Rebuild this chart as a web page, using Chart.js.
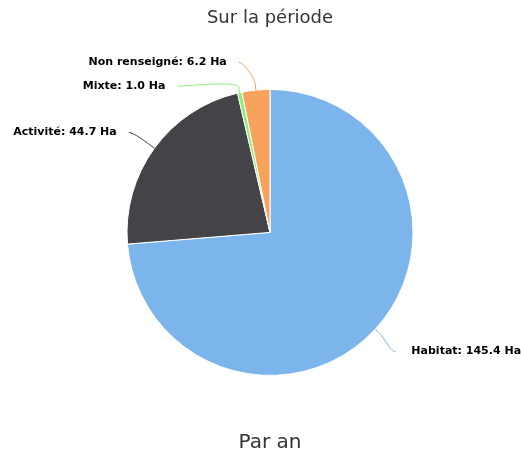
<!DOCTYPE html>
<html>
<head>
<meta charset="utf-8">
<script src="https://cdn.jsdelivr.net/npm/chart.js@4"></script>
<style>
  html, body { margin: 0; padding: 0; background: #fff; }
  #wrap { width: 521px; height: 459px; }
</style>
</head>
<body>
<div id="wrap"><canvas id="pie"></canvas></div>
<script>
const categories = ['Habitat', 'Activité', 'Mixte', 'Non renseigné'];
const surfaces = [145.4, 44.7, 1.0, 6.2];
const sliceColors = ['#7cb5ec', '#434348', '#90ed7d', '#f7a35c'];
const unit = 'Ha';

// labels outside the pie, joined to their slice by a soft connector
const outsideLabels = {
  id: 'outsideLabels',
  afterDatasetsDraw(chart, args, opts) {
    const ctx = chart.ctx;
    const meta = chart.getDatasetMeta(0);
    const distance = opts.distance;
    const items = meta.data.map((arc, i) => {
      const p = arc.getProps(['x', 'y', 'startAngle', 'endAngle', 'outerRadius'], true);
      const a = (p.startAngle + p.endAngle) / 2;
      return {
        i, a, cx: p.x, cy: p.y, r: p.outerRadius,
        left: Math.cos(a) < 0,
        y: p.y + Math.sin(a) * (p.outerRadius + distance)
      };
    });
    // push overlapping labels apart on each side
    [true, false].forEach(side => {
      const list = items.filter(it => it.left === side).sort((u, v) => u.y - v.y);
      for (let k = 1; k < list.length; k++) {
        list[k].y = Math.max(list[k].y, list[k - 1].y + opts.spacing);
      }
    });

    ctx.save();
    ctx.font = opts.font;
    ctx.textBaseline = 'middle';
    ctx.lineJoin = 'round';
    items.forEach(it => {
      const R = it.r + distance;
      const y = it.y + 2;
      const dy = Math.min(Math.abs(y - it.cy), R);
      const dx = Math.sqrt(R * R - dy * dy);
      const x = it.left ? it.cx - dx : it.cx + dx;
      const touch = { x: it.cx + Math.cos(it.a) * it.r, y: it.cy + Math.sin(it.a) * it.r };
      const brk = {
        x: it.cx + Math.cos(it.a) * (it.r + distance / 5),
        y: it.cy + Math.sin(it.a) * (it.r + distance / 5)
      };

      ctx.strokeStyle = sliceColors[it.i];
      ctx.lineWidth = 1;
      ctx.beginPath();
      ctx.moveTo(x, y);
      ctx.bezierCurveTo(x + (it.left ? 5 : -5), y,
        2 * brk.x - touch.x, 2 * brk.y - touch.y, brk.x, brk.y);
      ctx.lineTo(touch.x, touch.y);
      ctx.stroke();

      const text = categories[it.i] + ': ' + surfaces[it.i].toFixed(1) + ' ' + unit;
      const tx = it.left ? x - opts.gapLeft : x + opts.gapRight;
      ctx.textAlign = it.left ? 'right' : 'left';
      ctx.strokeStyle = '#ffffff';
      ctx.lineWidth = 2;
      ctx.strokeText(text, tx, y);
      ctx.fillStyle = '#000000';
      ctx.fillText(text, tx, y);
    });
    ctx.restore();
  }
};

new Chart(document.getElementById('pie'), {
  type: 'pie',
  data: {
    labels: categories,
    datasets: [{
      data: surfaces,
      backgroundColor: sliceColors,
      borderColor: '#ffffff',
      borderWidth: 1,
      radius: 143
    }]
  },
  options: {
    responsive: true,
    maintainAspectRatio: false,
    animation: false,
    layout: { padding: { left: 19, right: 0 } },
    plugins: {
      legend: { display: false },
      tooltip: { enabled: false },
      title: {
        display: true,
        text: 'Sur la période',
        color: '#333333',
        font: { family: 'DejaVu Sans', size: 18, weight: 'normal' },
        padding: { top: 8, bottom: 30 }
      },
      subtitle: {
        display: true,
        position: 'bottom',
        text: 'Par an',
        color: '#333333',
        font: { family: 'DejaVu Sans', size: 20, weight: 'normal' },
        padding: { top: 25.8, bottom: 4 }
      },
      outsideLabels: {
        distance: 30,
        spacing: 24,
        gapLeft: 12,
        gapRight: 16,
        font: 'bold 11px "DejaVu Sans"'
      }
    }
  },
  plugins: [outsideLabels]
});
</script>
</body>
</html>
